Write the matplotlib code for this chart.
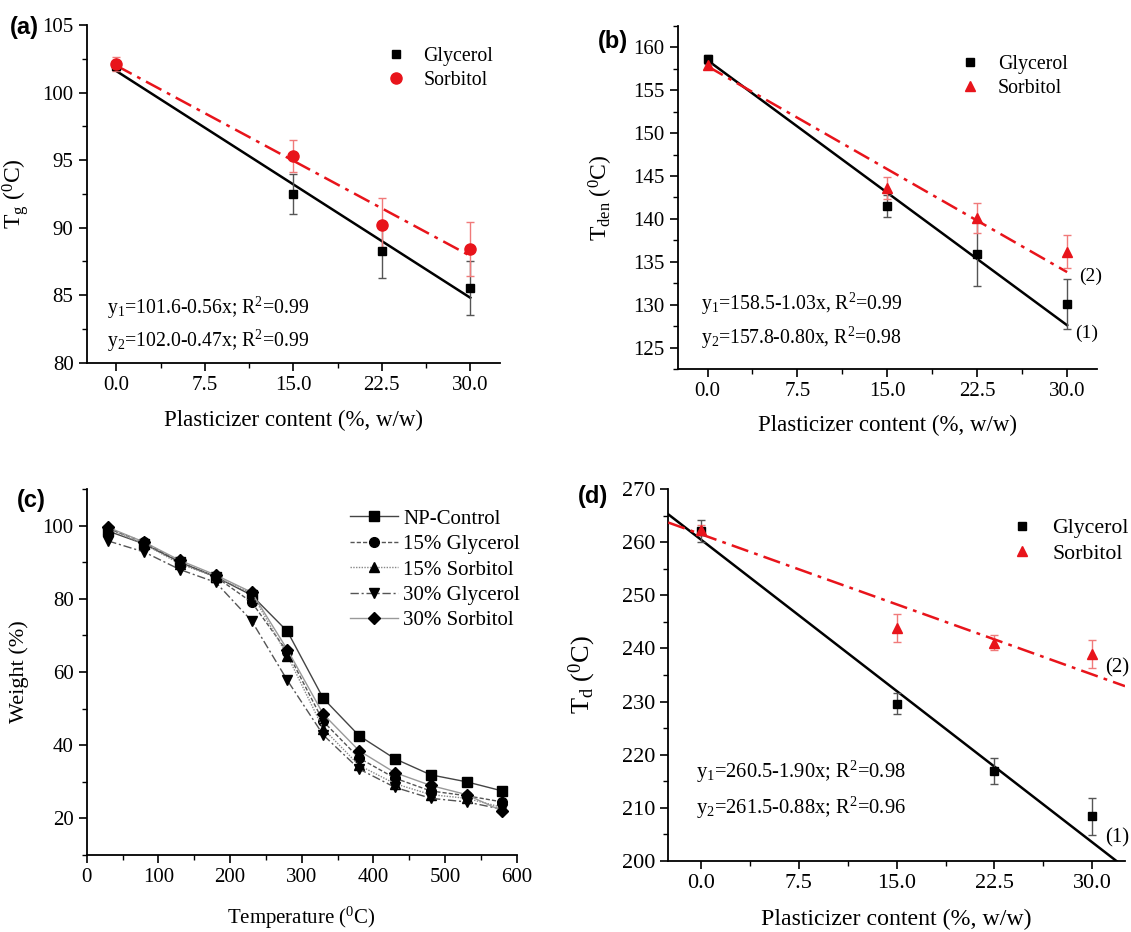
import matplotlib
matplotlib.use("Agg")
import matplotlib.pyplot as plt
import numpy as np
from matplotlib.lines import Line2D
from matplotlib.ticker import MultipleLocator

plt.rcParams['font.family'] = ['Liberation Serif', 'DejaVu Serif']
plt.rcParams['mathtext.fontset'] = 'custom'
plt.rcParams['mathtext.rm'] = 'Liberation Serif'
plt.rcParams['mathtext.it'] = 'Liberation Serif:italic'

# plasticizer content (%, w/w)
content = [0, 15, 22.5, 30]
content_ticks = [0, 7.5, 15, 22.5, 30]

# (a) glass transition temperature
tg_gly = [102.0, 92.5, 88.3, 85.5]
tg_gly_err = [0.3, 1.5, 2.0, 2.0]
tg_sor = [102.1, 95.3, 90.2, 88.4]
tg_sor_err = [0.5, 1.2, 2.0, 2.0]
tg_fit = [(101.6, -0.56), (102.0, -0.47)]

# (b) denaturation temperature
tden_gly = [158.6, 141.5, 135.9, 130.1]
tden_gly_err = [0.5, 1.3, 3.7, 2.9]
tden_sor = [158.0, 143.6, 140.1, 136.2]
tden_sor_err = [0.5, 1.3, 1.7, 1.9]
tden_fit = [(158.5, -1.03), (157.8, -0.80)]

# (c) TGA curves
temps = [30, 80, 130, 180, 230, 280, 330, 380, 430, 480, 530, 580]
np_control = [98.5, 95.0, 90.0, 86.0, 81.0, 71.1, 52.8, 42.6, 36.3, 31.9, 30.0, 27.5]
gly15 = [99.2, 95.5, 90.0, 86.0, 79.1, 65.5, 46.5, 36.5, 31.0, 27.5, 26.2, 24.5]
sor15 = [99.0, 95.0, 89.5, 86.0, 81.5, 64.5, 44.5, 34.5, 29.5, 26.5, 25.5, 23.0]
gly30 = [95.8, 92.8, 88.0, 84.5, 74.0, 57.7, 42.8, 33.5, 28.5, 25.5, 24.5, 22.5]
sor30 = [99.5, 95.5, 90.5, 86.5, 81.8, 66.1, 48.5, 38.5, 32.5, 29.0, 26.5, 22.0]
tga_names = ['NP-Control', '15% Glycerol', '15% Sorbitol', '30% Glycerol', '30% Sorbitol']

# (d) degradation temperature
td_gly = [262.1, 229.6, 216.9, 208.4]
td_gly_err = [2.1, 2.0, 2.5, 3.5]
td_sor = [262.3, 243.8, 241.1, 238.9]
td_sor_err = [1.0, 2.6, 1.4, 2.6]
td_fit = [(260.5, -1.90), (261.5, -0.88)]

RED = '#e8141b'


def style_axes(ax, labelsize=15):
    ax.spines['top'].set_visible(False)
    ax.spines['right'].set_visible(False)
    for s in ('left', 'bottom'):
        ax.spines[s].set_linewidth(1.3)
    ax.tick_params(which='major', direction='out', length=6, width=1.2, labelsize=labelsize)
    ax.tick_params(which='minor', direction='out', length=3.5, width=1.0)


def content_panel(ax, gly, gly_err, sor, sor_err, fit, sor_marker, sor_ms, ylim, ymaj, ymin,
                  ylabel, full_line=False):
    ax.set_xlim(-2.5, 32.5)
    ax.set_ylim(*ylim)
    ax.errorbar(content, gly, yerr=gly_err, fmt='s', color='black', ms=5.5,
                ecolor='#555555', elinewidth=1, capsize=3, capthick=1, zorder=4)
    ax.errorbar(content, sor, yerr=sor_err, fmt=sor_marker, color=RED, ms=sor_ms,
                ecolor='#f07a7a', elinewidth=1, capsize=3, capthick=1, zorder=4)
    if full_line:
        xl = np.array(ax.get_xlim())
    else:
        xl = np.array([content[0], content[-1]])
    ax.plot(xl, fit[0][0] + fit[0][1] * xl, color='black', lw=1.8, zorder=3)
    ax.plot(xl, fit[1][0] + fit[1][1] * xl, color=RED, lw=1.8, ls=(0, (7, 2.5, 1.5, 2.5)), zorder=3)
    ax.set_xticks(content_ticks)
    ax.set_xticklabels(['%.1f' % t for t in content_ticks])
    ax.xaxis.set_minor_locator(MultipleLocator(3.75))
    ax.yaxis.set_major_locator(MultipleLocator(ymaj))
    ax.yaxis.set_minor_locator(MultipleLocator(ymin))
    ax.set_ylabel(ylabel, fontsize=17)


def marker_legend(ax, sor_marker, sor_ms, x, y, fs):
    handles = [Line2D([], [], ls='none', marker='s', color='black', ms=5.5),
               Line2D([], [], ls='none', marker=sor_marker, color=RED, ms=sor_ms)]
    ax.legend(handles, ['Glycerol', 'Sorbitol'], loc='upper left', bbox_to_anchor=(x, y),
              frameon=False, fontsize=fs, handletextpad=0.9, handlelength=1.0,
              labelspacing=0.25, borderpad=0, borderaxespad=0)


fig = plt.figure(figsize=(11.31, 9.32), dpi=100)

# ---- (a)
ax_a = fig.add_axes([0.0767, 0.6110, 0.3652, 0.3621])
content_panel(ax_a, tg_gly, tg_gly_err, tg_sor, tg_sor_err, tg_fit, 'o', 8, (80, 105), 5, 2.5,
              r'T$_\mathregular{g}$ ($^\mathregular{0}$C)')
style_axes(ax_a)
ax_a.set_xlabel('Plasticizer content (%, w/w)', fontsize=16.5, labelpad=11)
ax_a.yaxis.set_label_coords(-0.135, 0.5)
marker_legend(ax_a, 'o', 8, 0.724, 0.935, 14.3)
ax_a.text(0.049, 0.161, r'y$_\mathregular{1}$=101.6-0.56x; R$^\mathregular{2}$=0.99',
          transform=ax_a.transAxes, fontsize=14.2, va='center')
ax_a.text(0.049, 0.064, r'y$_\mathregular{2}$=102.0-0.47x; R$^\mathregular{2}$=0.99',
          transform=ax_a.transAxes, fontsize=14.2, va='center')

# ---- (b)
ax_b = fig.add_axes([0.5991, 0.6041, 0.3709, 0.368])
content_panel(ax_b, tden_gly, tden_gly_err, tden_sor, tden_sor_err, tden_fit, '^', 7.5, (122.5, 162.5), 5, 2.5,
              r'T$_\mathregular{den}$ ($^\mathregular{0}$C)')
style_axes(ax_b)
ax_b.set_xlabel('Plasticizer content (%, w/w)', fontsize=16.5, labelpad=10)
ax_b.yaxis.set_label_coords(-0.150, 0.5)
marker_legend(ax_b, '^', 7.5, 0.673, 0.915, 14.3)
ax_b.text(0.056, 0.19, r'y$_\mathregular{1}$=158.5-1.03x, R$^\mathregular{2}$=0.99',
          transform=ax_b.transAxes, fontsize=14.2, va='center')
ax_b.text(0.056, 0.092, r'y$_\mathregular{2}$=157.8-0.80x, R$^\mathregular{2}$=0.98',
          transform=ax_b.transAxes, fontsize=14.2, va='center')
ax_b.text(31.0, 133.3, '(2)', fontsize=14, va='center')
ax_b.text(30.7, 126.7, '(1)', fontsize=14, va='center')

# ---- (c)
ax_c = fig.add_axes([0.0767, 0.0826, 0.3802, 0.3927])
tga_series = [np_control, gly15, sor15, gly30, sor30]
tga_markers = ['s', 'o', '^', 'v', 'D']
tga_ls = ['-', (0, (3, 1.5)), (0, (1, 1)), (0, (6, 2, 1.5, 2)), '-']
tga_col = ['#444444', '#555555', '#888888', '#555555', '#999999']
tga_ms = [6.5, 7, 7, 7.5, 6]
for vals, name, mk, ls, c, ms in zip(tga_series, tga_names, tga_markers, tga_ls, tga_col, tga_ms):
    ax_c.plot(temps, vals, ls=ls, color=c, lw=1.0, marker=mk, ms=ms,
              mfc='black', mec='black', label=name)
ax_c.set_xlim(0, 600)
ax_c.set_ylim(10, 110)
ax_c.xaxis.set_major_locator(MultipleLocator(100))
ax_c.xaxis.set_minor_locator(MultipleLocator(50))
ax_c.yaxis.set_major_locator(MultipleLocator(20))
ax_c.yaxis.set_minor_locator(MultipleLocator(10))
ax_c.set_xlabel(r'Temperature ($^\mathregular{0}$C)', fontsize=15, labelpad=13)
ax_c.set_ylabel('Weight (%)', fontsize=16)
ax_c.yaxis.set_label_coords(-0.135, 0.5)
style_axes(ax_c)
ax_c.legend(loc='upper left', bbox_to_anchor=(0.612, 0.945), frameon=False, fontsize=15,
            handlelength=2.3, handletextpad=0.25, labelspacing=0.28, borderpad=0, borderaxespad=0)

# ---- (d)
ax_d = fig.add_axes([0.5908, 0.0762, 0.4039, 0.3991])
content_panel(ax_d, td_gly, td_gly_err, td_sor, td_sor_err, td_fit, '^', 7.5, (200, 270), 10, 5,
              r'T$_\mathregular{d}$ ($^\mathregular{0}$C)', full_line=True)
style_axes(ax_d, labelsize=16)
ax_d.yaxis.label.set_size(19)
ax_d.yaxis.set_label_coords(-0.154, 0.5)
ax_d.set_xlabel('Plasticizer content (%, w/w)', fontsize=17.2, labelpad=11)
marker_legend(ax_d, '^', 7.5, 0.750, 0.922, 15.7)
ax_d.text(0.06, 0.24, r'y$_\mathregular{1}$=260.5-1.90x; R$^\mathregular{2}$=0.98',
          transform=ax_d.transAxes, fontsize=14.8, va='center')
ax_d.text(0.06, 0.142, r'y$_\mathregular{2}$=261.5-0.88x; R$^\mathregular{2}$=0.96',
          transform=ax_d.transAxes, fontsize=14.8, va='center')
ax_d.text(31.0, 236.4, '(2)', fontsize=15, va='center')
ax_d.text(31.0, 204.3, '(1)', fontsize=15, va='center')

# panel letters
for lbl, x, y in [('(a)', 0.009, 0.970), ('(b)', 0.529, 0.956), ('(c)', 0.015, 0.4635), ('(d)', 0.511, 0.467)]:
    fig.text(x, y, lbl, fontsize=17, fontweight='bold', family='Liberation Sans', va='center')

fig.savefig('out.png', dpi=100)
